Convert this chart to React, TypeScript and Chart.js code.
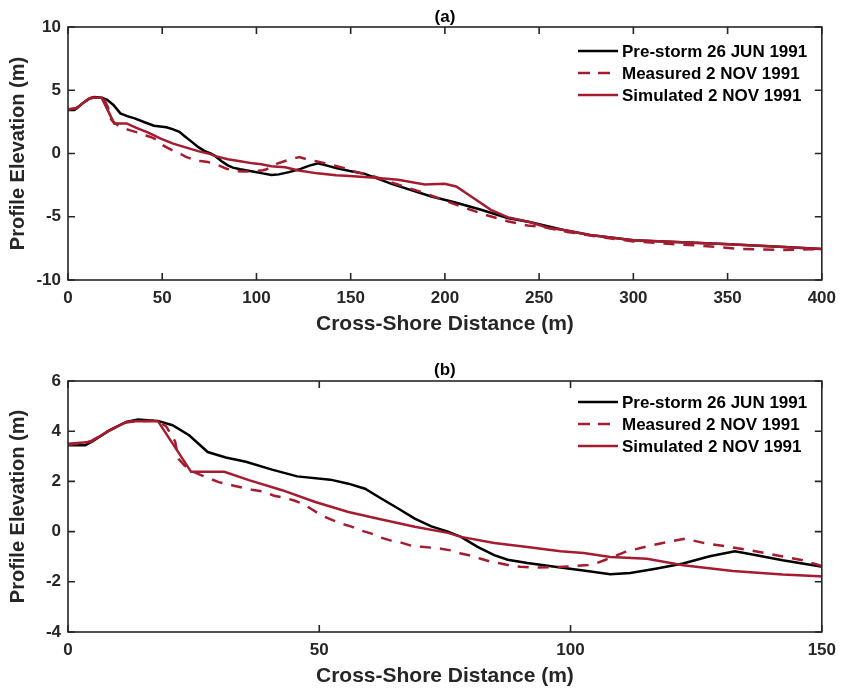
import React, { useEffect, useRef } from 'react';
import { Chart, registerables } from 'chart.js';
Chart.register(...registerables);

// ---------------- data ----------------
const preX = [0, 3.4, 4.7, 8.3, 11.6, 13.9, 17.9, 20.8, 24.1, 27.8, 31.4, 35.4, 40.6, 45.6, 52.2, 55.8, 59.1, 62.4, 65.7, 69, 72.3, 75.6, 78.2, 81.5, 84.8, 87.5, 91.4, 98, 103.3, 107.9, 111.9, 117.2, 122.4, 127.7, 132.7, 137, 142.2, 149.5, 157.6, 171.7, 192.8, 205.1, 219.2, 233.2, 245.5, 263, 277, 300, 322.6, 348, 375, 400];
const preY = [3.44, 3.44, 3.57, 4.04, 4.37, 4.47, 4.41, 4.24, 3.84, 3.17, 2.95, 2.78, 2.47, 2.2, 2.07, 1.91, 1.71, 1.31, 0.92, 0.52, 0.21, 0, -0.21, -0.61, -0.94, -1.12, -1.25, -1.43, -1.57, -1.7, -1.65, -1.47, -1.27, -0.98, -0.78, -0.94, -1.14, -1.38, -1.61, -2.4, -3.4, -3.85, -4.45, -5.1, -5.43, -6.05, -6.45, -6.85, -7.0, -7.15, -7.35, -7.55];

const measX = [0, 4.5, 8, 11.5, 13.5, 17.5, 19.5, 21.3, 22, 23.2, 24.8, 26.7, 30, 33, 36.6, 39, 41, 43, 45, 47, 48.9, 50.5, 52.4, 54.4, 56.4, 58.4, 60.4, 62.3, 64.3, 66.3, 68.3, 70.3, 72.3, 74.2, 76.2, 78.2, 80.2, 82.1, 84.1, 86.1, 88, 90, 93, 97, 101, 103.5, 105, 107, 109, 111, 116, 122.8, 126.4, 131.7, 135.6, 140.9, 146.2, 149.5, 160, 175, 189.3, 199.8, 212.1, 222.7, 233.2, 243.8, 252.6, 265, 280, 300, 320, 335, 357, 380, 400];
const measY = [3.45, 3.6, 4.0, 4.35, 4.4, 4.42, 4.2, 3.6, 2.9, 2.63, 2.4, 2.23, 1.97, 1.83, 1.67, 1.59, 1.43, 1.35, 1.24, 1.08, 0.84, 0.64, 0.48, 0.32, 0.2, 0.04, -0.08, -0.24, -0.36, -0.44, -0.56, -0.6, -0.64, -0.68, -0.75, -0.87, -0.96, -1.08, -1.2, -1.27, -1.35, -1.4, -1.43, -1.42, -1.37, -1.33, -1.27, -1.12, -0.96, -0.8, -0.55, -0.28, -0.45, -0.61, -0.74, -0.94, -1.14, -1.34, -1.7, -2.45, -3.13, -3.72, -4.37, -4.9, -5.35, -5.69, -5.83, -6.2, -6.55, -6.95, -7.15, -7.28, -7.55, -7.63, -7.55];

const simX = [0, 4.4, 8, 11.6, 13.5, 17.9, 24.5, 31.1, 36, 42.6, 49.2, 55.8, 62.4, 69, 75.6, 78.2, 84.8, 91.4, 98, 102.6, 107.9, 111.2, 115.2, 122.4, 132.3, 142.2, 149.5, 162.9, 175.2, 189.3, 199.8, 206, 215.7, 224.4, 233.2, 245.5, 254.4, 263, 277, 300, 322.6, 348, 375, 400];
const simY = [3.5, 3.57, 4.0, 4.37, 4.4, 4.4, 2.38, 2.38, 2.05, 1.65, 1.18, 0.78, 0.48, 0.19, -0.05, -0.21, -0.45, -0.61, -0.78, -0.85, -1.01, -1.04, -1.08, -1.34, -1.57, -1.71, -1.78, -1.92, -2.08, -2.45, -2.4, -2.61, -3.58, -4.45, -5.03, -5.43, -5.87, -6.05, -6.45, -6.85, -7.0, -7.15, -7.35, -7.55];

const seriesNames = ['Pre-storm 26 JUN 1991', 'Measured 2 NOV 1991', 'Simulated 2 NOV 1991'];
const panelTitles = ['(a)', '(b)'];
const xAxisTitle = 'Cross-Shore Distance (m)';
const yAxisTitle = 'Profile Elevation (m)';

const RED = '#A51C30';
const AXIS = '#262626';
const FONT = "'Liberation Sans', Arial, sans-serif";

const pts = (xs: number[], ys: number[]) => xs.map((x, i) => ({ x, y: ys[i] }));

type PanelCfg = {
  title: string;
  xMax: number;
  xStep: number;
  yMin: number;
  yMax: number;
  yStep: number;
  height: number;
  plotTop: number;
  plotBottom: number;
  titleY: number;
  xTitleY: number;
  legendY: number[];
};

const framePlugin = {
  id: 'frameLegend',
  afterDraw(chart: any, _args: any, opts: any) {
    const { ctx, chartArea } = chart;
    const { left, right, top, bottom } = chartArea;
    const xs = chart.scales.x;
    const ys = chart.scales.y;
    ctx.save();
    ctx.strokeStyle = AXIS;
    ctx.lineWidth = 1.6;
    ctx.strokeRect(left, top, right - left, bottom - top);
    const tl = 7;
    ctx.beginPath();
    xs.ticks.forEach((t: any) => {
      const p = xs.getPixelForValue(t.value);
      ctx.moveTo(p, bottom); ctx.lineTo(p, bottom - tl);
      ctx.moveTo(p, top); ctx.lineTo(p, top + tl);
    });
    ys.ticks.forEach((t: any) => {
      const p = ys.getPixelForValue(t.value);
      ctx.moveTo(left, p); ctx.lineTo(left + tl, p);
      ctx.moveTo(right, p); ctx.lineTo(right - tl, p);
    });
    ctx.stroke();

    // titles
    ctx.fillStyle = '#000';
    ctx.textAlign = 'center';
    ctx.textBaseline = 'middle';
    ctx.font = `bold 17px ${FONT}`;
    ctx.fillText(opts.title, (left + right) / 2, opts.titleY);
    ctx.fillStyle = AXIS;
    ctx.font = `bold 21px ${FONT}`;
    ctx.fillText(xAxisTitle, (left + right) / 2, opts.xTitleY);
    ctx.save();
    ctx.translate(18, (top + bottom) / 2);
    ctx.rotate(-Math.PI / 2);
    ctx.font = `bold 20px ${FONT}`;
    ctx.fillText(yAxisTitle, 0, 0);
    ctx.restore();

    // legend
    const ds = chart.data.datasets;
    ctx.textAlign = 'left';
    ctx.font = `bold 17px ${FONT}`;
    opts.legendY.forEach((y: number, i: number) => {
      const d = ds[i];
      ctx.save();
      ctx.strokeStyle = d.borderColor;
      ctx.lineWidth = d.borderWidth;
      ctx.setLineDash(i === 1 ? [12, 8] : []);
      ctx.beginPath();
      ctx.moveTo(578, y);
      ctx.lineTo(618, y);
      ctx.stroke();
      ctx.restore();
      ctx.fillStyle = '#000';
      ctx.fillText(d.label, 622, y + 1);
    });
    ctx.restore();
  },
};

function Panel({ cfg, top }: { cfg: PanelCfg; top: number }) {
  const ref = useRef<HTMLCanvasElement>(null);
  useEffect(() => {
    if (!ref.current) return;
    const chart = new Chart(ref.current, {
      type: 'line',
      data: {
        datasets: [
          { label: seriesNames[0], data: pts(preX, preY), borderColor: '#000000', borderWidth: 2.5, pointRadius: 0, fill: false, order: 3 },
          { label: seriesNames[1], data: pts(measX, measY), borderColor: RED, borderWidth: 2.5, borderDash: [11, 9], pointRadius: 0, fill: false, order: 2 },
          { label: seriesNames[2], data: pts(simX, simY), borderColor: RED, borderWidth: 2.5, pointRadius: 0, fill: false, order: 1 },
        ],
      },
      options: {
        responsive: false,
        animation: false,
        events: [],
        layout: { padding: { left: 0, right: 844 - 826, top: cfg.plotTop, bottom: 0 } },
        plugins: {
          legend: { display: false },
          tooltip: { enabled: false },
          title: { display: false },
          frameLegend: cfg,
        } as any,
        scales: {
          x: {
            type: 'linear',
            min: 0,
            max: cfg.xMax,
            grid: { display: false, drawTicks: false },
            border: { display: false },
            ticks: { stepSize: cfg.xStep, padding: 8, maxRotation: 0, autoSkip: false, color: AXIS, font: { family: FONT, size: 17, weight: 'bold' } },
            afterFit: (s: any) => { s.height = cfg.height - cfg.plotBottom; },
          },
          y: {
            type: 'linear',
            min: cfg.yMin,
            max: cfg.yMax,
            grid: { display: false, drawTicks: false },
            border: { display: false },
            ticks: { stepSize: cfg.yStep, padding: 7, autoSkip: false, color: AXIS, font: { family: FONT, size: 17, weight: 'bold' } },
            afterFit: (s: any) => { s.width = 68; },
          },
        },
      } as any,
      plugins: [framePlugin],
    });
    return () => chart.destroy();
  }, [cfg]);
  return (
    <canvas
      ref={ref}
      width={844}
      height={cfg.height}
      style={{ position: 'absolute', left: 0, top, width: 844, height: cfg.height, display: 'block' }}
    />
  );
}

const cfgA: PanelCfg = {
  title: panelTitles[0], xMax: 400, xStep: 50, yMin: -10, yMax: 10, yStep: 5,
  height: 345, plotTop: 27, plotBottom: 280, titleY: 17, xTitleY: 324, legendY: [51, 73, 95],
};
const cfgB: PanelCfg = {
  title: panelTitles[1], xMax: 150, xStep: 50, yMin: -4, yMax: 6, yStep: 2,
  height: 344, plotTop: 36, plotBottom: 287, titleY: 25, xTitleY: 331, legendY: [57, 79, 101],
};

export default function App() {
  return (
    <div style={{ position: 'absolute', left: 0, top: 0, width: 844, height: 689, background: '#fff' }}>
      <Panel cfg={cfgA} top={0} />
      <Panel cfg={cfgB} top={345} />
    </div>
  );
}
